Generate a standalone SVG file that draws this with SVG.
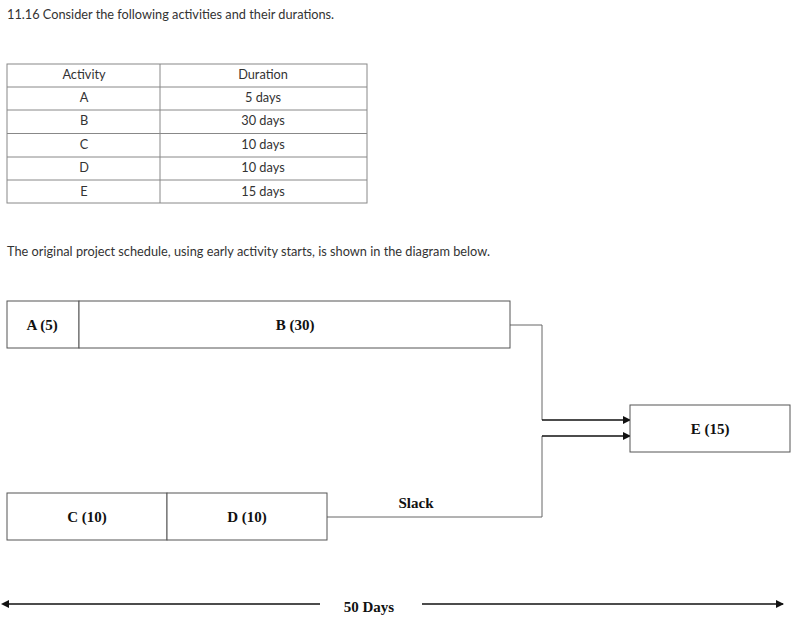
<svg xmlns="http://www.w3.org/2000/svg" width="807" height="631" viewBox="0 0 807 631">
<style>
.t{font-family:Lato,"Liberation Sans",sans-serif;font-size:12.75px;fill:#333}
.c{text-anchor:middle}
.tb{fill:none;stroke:#888;stroke-width:1}
.box{fill:#fff;stroke:#555;stroke-width:1}
.lbl{font-family:"Liberation Serif",serif;font-size:15px;font-weight:bold;fill:#111;text-anchor:middle}
.gl{fill:none;stroke:#666;stroke-width:1}
.ar{fill:none;stroke:#111;stroke-width:1.6}
</style>
<defs>
<marker id="ah" markerWidth="8" markerHeight="8" refX="7" refY="4" orient="auto" markerUnits="userSpaceOnUse">
<path d="M0,0 L8,4 L0,8 Z" fill="#111"/>
</marker>
<marker id="ahs" markerWidth="8" markerHeight="8" refX="1" refY="4" orient="auto-start-reverse" markerUnits="userSpaceOnUse">
<path d="M0,0 L8,4 L0,8 Z" fill="#111"/>
</marker>
</defs>
<rect width="807" height="631" fill="#fff"/>
<text class="t" x="7" y="19">11.16 Consider the following activities and their durations.</text>
<g id="table">
<rect class="tb" x="7" y="64" width="360" height="139"/>
<line class="tb" x1="160" y1="64" x2="160" y2="203"/>
<line class="tb" x1="7" y1="87" x2="367" y2="87"/>
<line class="tb" x1="7" y1="110" x2="367" y2="110"/>
<line class="tb" x1="7" y1="133.5" x2="367" y2="133.5"/>
<line class="tb" x1="7" y1="157" x2="367" y2="157"/>
<line class="tb" x1="7" y1="180" x2="367" y2="180"/>
<text class="t c" x="84" y="79">Activity</text>
<text class="t c" x="263" y="79">Duration</text>
<text class="t c" x="84" y="102">A</text><text class="t c" x="263" y="102">5 days</text>
<text class="t c" x="84" y="125">B</text><text class="t c" x="263" y="125">30 days</text>
<text class="t c" x="84" y="149">C</text><text class="t c" x="263" y="149">10 days</text>
<text class="t c" x="84" y="172">D</text><text class="t c" x="263" y="172">10 days</text>
<text class="t c" x="84" y="196">E</text><text class="t c" x="263" y="196">15 days</text>
</g>
<text class="t" x="7" y="256">The original project schedule, using early activity starts, is shown in the diagram below.</text>
<g id="connectors">
<polyline class="gl" points="510,325 542,325 542,420"/>
<line class="ar" x1="542" y1="420" x2="630" y2="420" marker-end="url(#ah)"/>
<polyline class="gl" points="327,517 542,517 542,436"/>
<line class="ar" x1="542" y1="436" x2="630" y2="436" marker-end="url(#ah)"/>
<line class="ar" x1="8" y1="604" x2="320" y2="604" marker-start="url(#ahs)"/>
<line class="ar" x1="422" y1="604" x2="783" y2="604" marker-end="url(#ah)"/>
</g>
<g id="A"><rect class="box" x="7" y="301" width="72" height="47"/><text class="lbl" x="42" y="330">A (5)</text></g>
<g id="B"><rect class="box" x="79" y="301" width="431" height="47"/><text class="lbl" x="295" y="330">B (30)</text></g>
<g id="C"><rect class="box" x="7" y="493" width="160" height="47"/><text class="lbl" x="87" y="522">C (10)</text></g>
<g id="D"><rect class="box" x="167" y="493" width="160" height="47"/><text class="lbl" x="247" y="522">D (10)</text></g>
<g id="E"><rect class="box" x="630" y="405" width="160" height="47"/><text class="lbl" x="710" y="434">E (15)</text></g>
<text class="lbl" x="416" y="508">Slack</text>
<text class="lbl" x="369" y="612">50 Days</text>
</svg>
